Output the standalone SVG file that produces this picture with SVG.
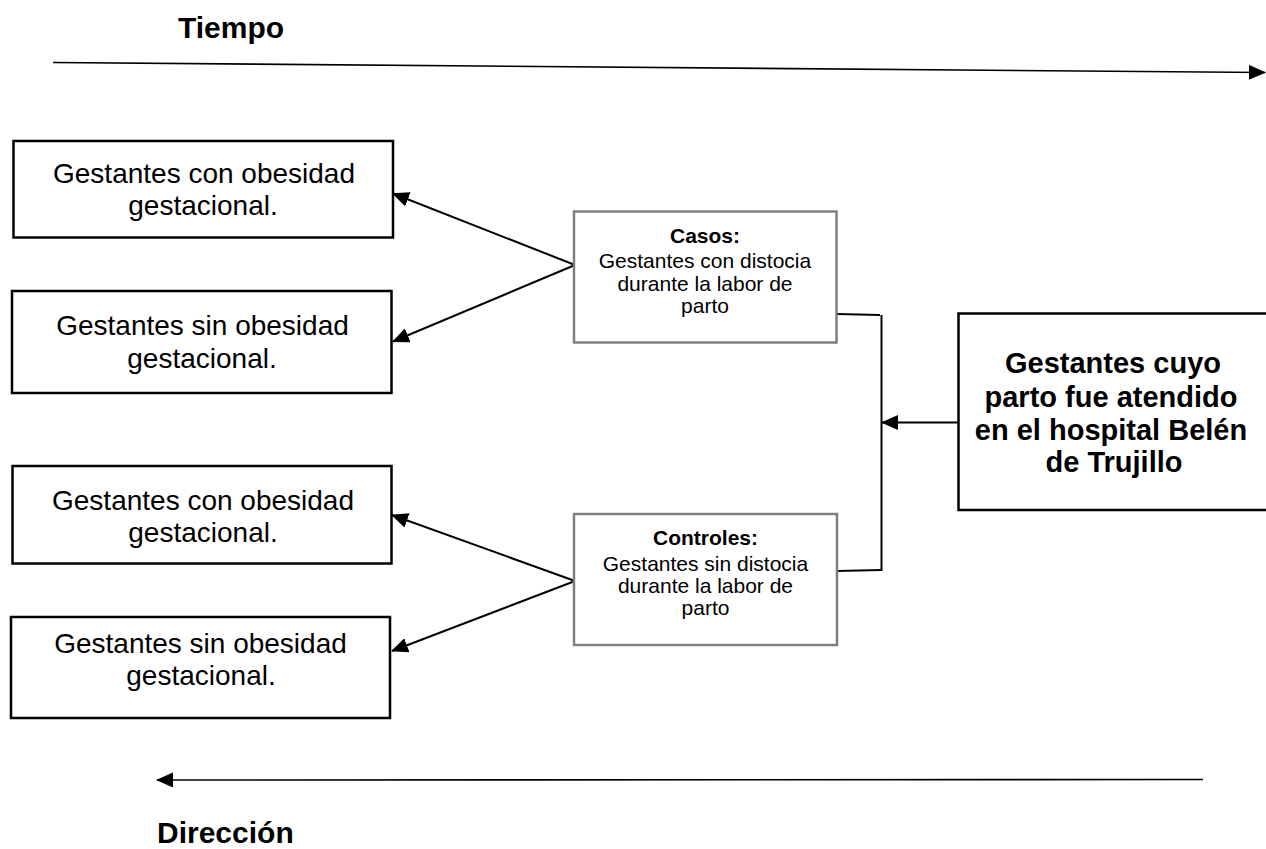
<svg xmlns="http://www.w3.org/2000/svg" width="1266" height="849" viewBox="0 0 1266 849">
<style>
  .box { fill: #fff; stroke: #000; stroke-width: 2.5; }
  .gbox { fill: #fff; stroke: #7f7f7f; stroke-width: 2.5; }
  .t { font-family: "Liberation Sans", Arial, sans-serif; fill: #000; text-anchor: middle; }
  .big { font-size: 28px; }
  .bigb { font-size: 29px; font-weight: bold; }
  .small { font-size: 21px; }
  .bold { font-weight: bold; }
  .title { font-family: "Liberation Sans", Arial, sans-serif; font-weight: bold; font-size: 30px; fill: #000; }
  .conn { stroke: #000; stroke-width: 2; fill: none; }
  .axis { stroke: #000; stroke-width: 1.6; fill: none; }
</style>
<defs>
  <marker id="ah" markerUnits="userSpaceOnUse" markerWidth="17" markerHeight="15" refX="16" refY="7.5" orient="auto">
    <path d="M0,0 L17,7.5 L0,15 z" fill="#000"/>
  </marker>
</defs>

<text class="title" x="178" y="38">Tiempo</text>
<text class="title" x="157" y="843">Dirección</text>

<g id="connectors">
  <line class="axis" x1="53" y1="62.5" x2="1265" y2="72.5" marker-end="url(#ah)"/>
  <line class="axis" x1="1203" y1="779.5" x2="157" y2="780" marker-end="url(#ah)"/>
  <line class="conn" x1="575" y1="265" x2="393" y2="193.5" marker-end="url(#ah)"/>
  <line class="conn" x1="575" y1="265" x2="393" y2="341.5" marker-end="url(#ah)"/>
  <line class="conn" x1="575" y1="581" x2="392" y2="515" marker-end="url(#ah)"/>
  <line class="conn" x1="575" y1="581" x2="392" y2="651" marker-end="url(#ah)"/>
  <polyline class="conn" points="837,314 880,315"/>
  <line class="conn" x1="881.5" y1="315" x2="881.5" y2="571"/>
  <polyline class="conn" points="837,571 881.5,570"/>
  <line class="conn" x1="958" y1="422.5" x2="882" y2="422.5" marker-end="url(#ah)"/>
</g>

<g id="box1">
  <rect class="box" x="13.5" y="141" width="379.5" height="96.5"/>
  <text class="t big" x="204" y="183">Gestantes con obesidad</text>
  <text class="t big" x="203" y="215">gestacional.</text>
</g>
<g id="box2">
  <rect class="box" x="12" y="291" width="379.5" height="102"/>
  <text class="t big" x="202.5" y="335">Gestantes sin obesidad</text>
  <text class="t big" x="202" y="368">gestacional.</text>
</g>
<g id="box3">
  <rect class="box" x="12.5" y="466" width="379" height="97.5"/>
  <text class="t big" x="203" y="510">Gestantes con obesidad</text>
  <text class="t big" x="203" y="542">gestacional.</text>
</g>
<g id="box4">
  <rect class="box" x="11" y="617" width="379" height="101"/>
  <text class="t big" x="200.5" y="653">Gestantes sin obesidad</text>
  <text class="t big" x="201" y="685">gestacional.</text>
</g>

<g id="casos">
  <rect class="gbox" x="574" y="211.5" width="262.5" height="131"/>
  <text class="t small bold" x="705" y="243">Casos:</text>
  <text class="t small" x="705" y="268">Gestantes con distocia</text>
  <text class="t small" x="705" y="290.5">durante la labor de</text>
  <text class="t small" x="705" y="312.5">parto</text>
</g>
<g id="controles">
  <rect class="gbox" x="574" y="514" width="263" height="131"/>
  <text class="t small bold" x="705.5" y="545">Controles:</text>
  <text class="t small" x="705.5" y="570.5">Gestantes sin distocia</text>
  <text class="t small" x="705.5" y="593">durante la labor de</text>
  <text class="t small" x="705.5" y="615">parto</text>
</g>

<g id="poblacion">
  <rect class="box" x="958.5" y="313.5" width="320" height="196.5"/>
  <text class="t bigb" x="1113" y="373">Gestantes cuyo</text>
  <text class="t bigb" x="1111" y="406.5">parto fue atendido</text>
  <text class="t bigb" x="1111" y="440">en el hospital Belén</text>
  <text class="t bigb" x="1114" y="472">de Trujillo</text>
</g>
</svg>
